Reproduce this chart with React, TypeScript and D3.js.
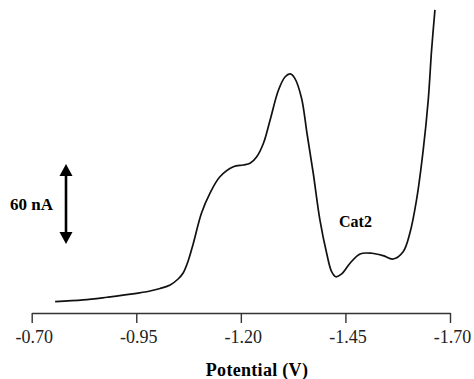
import React, { useRef, useEffect } from "react";
import * as d3 from "d3";

// potential (V) and current (nA, above the axis line)
const potential = [
  -0.756, -0.823, -0.88, -0.942, -0.983, -1.007, -1.031, -1.05, -1.062, -1.074,
  -1.086, -1.106, -1.126, -1.15, -1.182, -1.206, -1.222, -1.238, -1.254, -1.27,
  -1.29, -1.306, -1.318, -1.329, -1.345, -1.358, -1.373, -1.389, -1.405, -1.417,
  -1.427, -1.441, -1.461, -1.485, -1.513, -1.54, -1.564, -1.588, -1.604, -1.62,
  -1.636, -1.648, -1.656, -1.664,
];
const current = [
  8.5, 9.8, 11.8, 14.3, 16.5, 18.4, 21, 25.5, 30, 39,
  51.8, 75, 89.8, 102.2, 109.7, 111, 112.3, 117.2, 127.3, 144.8,
  167.3, 177.2, 179.3, 176, 161.3, 135, 105, 69.8, 45, 31,
  27.2, 29.3, 37.3, 44.3, 44.8, 43, 40.5, 46, 59.8, 84.8,
  122.3, 159.8, 197.3, 227.3,
];
const tickValues = [-0.7, -0.95, -1.2, -1.45, -1.7];
const scaleBarNA = 60;

export default function App() {
  const ref = useRef<SVGSVGElement>(null);

  useEffect(() => {
    const width = 474;
    const height = 379;
    const svg = d3.select(ref.current);
    svg.selectAll("*").remove();
    svg.attr("width", width).attr("height", height);

    const x = d3.scaleLinear().domain([-0.7, -1.7]).range([31.7, 450]);
    const y = d3.scaleLinear().domain([0, 240]).range([313, -7]);

    // X axis
    const axis = svg
      .append("g")
      .attr("transform", `translate(0,${y(0)})`)
      .call(
        d3
          .axisBottom(x)
          .tickValues(tickValues)
          .tickSize(10)
          .tickSizeOuter(0)
          .tickPadding(7)
          .tickFormat((d) => (d as number).toFixed(2))
      );
    axis.select(".domain").attr("stroke", "#333").attr("stroke-width", 1.6);
    axis.selectAll(".tick line").attr("stroke", "#333").attr("stroke-width", 1.4);
    axis
      .selectAll(".tick text")
      .attr("fill", "#222")
      .attr("dx", 2)
      .style("font-family", "'Liberation Serif', 'Times New Roman', serif")
      .style("font-size", "18px");

    svg
      .append("text")
      .attr("x", 257)
      .attr("y", 376)
      .attr("text-anchor", "middle")
      .style("font-family", "'Liberation Serif', 'Times New Roman', serif")
      .style("font-weight", "bold")
      .style("font-size", "18px")
      .style("letter-spacing", "0.3px")
      .text("Potential (V)");

    // trace
    const pts = potential.map((p, i) => [p, current[i]] as [number, number]);
    const line = d3
      .line<[number, number]>()
      .x((d) => x(d[0]))
      .y((d) => y(d[1]))
      .curve(d3.curveCatmullRom.alpha(0.5));
    svg
      .append("path")
      .datum(pts)
      .attr("d", line)
      .attr("fill", "none")
      .attr("stroke", "#111")
      .attr("stroke-width", 1.7);

    // scale bar
    const barX = 66;
    const yTop = 164;
    const yBot = yTop + (y(0) - y(scaleBarNA));
    const head = 12;
    const half = 6.5;
    svg
      .append("line")
      .attr("x1", barX)
      .attr("x2", barX)
      .attr("y1", yTop + head - 1)
      .attr("y2", yBot - head + 1)
      .attr("stroke", "#000")
      .attr("stroke-width", 2.6);
    svg
      .append("path")
      .attr(
        "d",
        `M${barX},${yTop} L${barX + half},${yTop + head} L${barX - half},${yTop + head} Z`
      )
      .attr("fill", "#000");
    svg
      .append("path")
      .attr(
        "d",
        `M${barX},${yBot} L${barX + half},${yBot - head} L${barX - half},${yBot - head} Z`
      )
      .attr("fill", "#000");
    svg
      .append("text")
      .attr("x", 10)
      .attr("y", 210)
      .style("font-family", "'Liberation Serif', 'Times New Roman', serif")
      .style("font-weight", "bold")
      .style("font-size", "17px")
      .text(`${scaleBarNA} nA`);

    svg
      .append("text")
      .attr("x", 339)
      .attr("y", 227)
      .style("font-family", "'Liberation Serif', 'Times New Roman', serif")
      .style("font-weight", "bold")
      .style("font-size", "16px")
      .text("Cat2");
  }, []);

  return (
    <svg
      ref={ref}
      style={{ position: "absolute", left: 0, top: 0, display: "block", background: "#fff" }}
    />
  );
}
